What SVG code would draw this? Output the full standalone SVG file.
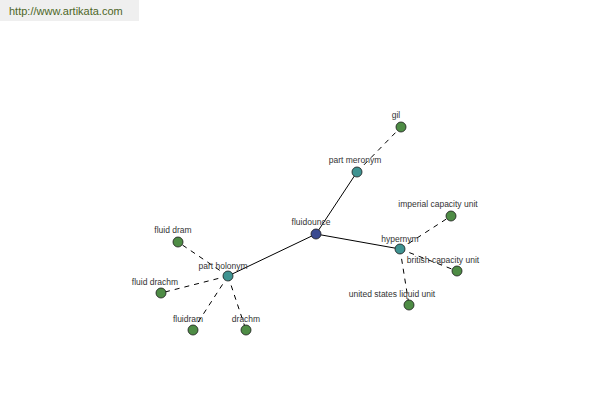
<svg xmlns="http://www.w3.org/2000/svg" width="600" height="400" viewBox="0 0 600 400">
<style>
.lbl{font-family:"Liberation Sans",Arial,sans-serif;font-size:8.5px;fill:#333;text-anchor:middle}
.n{stroke:#1a1a1a;stroke-width:0.8}
.leaf{fill:#4e8c45}
.mid{fill:#3f9391}
.root{fill:#3a4a90}
.solid{stroke:#000;stroke-width:1;fill:none}
.dash{stroke:#000;stroke-width:1;fill:none;stroke-dasharray:5,5}
</style>
<rect x="0" y="0" width="139" height="21" fill="#efefef"/>
<text x="9" y="15" style="font-family:'Liberation Sans',Arial,sans-serif;font-size:11px;fill:#4d6627">http://www.artikata.com</text>
<g id="connectors">
<line class="solid" x1="316" y1="234" x2="357" y2="172"/>
<line class="solid" x1="316" y1="234" x2="400" y2="249"/>
<line class="solid" x1="316" y1="234" x2="228" y2="276"/>
<line class="dash" x1="357" y1="172" x2="401" y2="127"/>
<line class="dash" x1="400" y1="249" x2="451" y2="216"/>
<line class="dash" x1="400" y1="249" x2="457" y2="271"/>
<line class="dash" x1="400" y1="249" x2="409" y2="305"/>
<line class="dash" x1="228" y1="276" x2="178" y2="242"/>
<line class="dash" x1="228" y1="276" x2="161" y2="293"/>
<line class="dash" x1="228" y1="276" x2="193" y2="330"/>
<line class="dash" x1="228" y1="276" x2="246" y2="330"/>
</g>
<g id="fluidounce"><circle class="n root" cx="316" cy="234" r="5"/><text class="lbl" x="311" y="225">fluidounce</text></g>
<g id="part-meronym"><circle class="n mid" cx="357" cy="172" r="5"/><text class="lbl" x="355" y="163">part meronym</text></g>
<g id="gil"><circle class="n leaf" cx="401" cy="127" r="5"/><text class="lbl" x="396" y="118">gil</text></g>
<g id="hypernym"><circle class="n mid" cx="400" cy="249" r="5"/><text class="lbl" x="400" y="242">hypernym</text></g>
<g id="imperial-capacity-unit"><circle class="n leaf" cx="451" cy="216" r="5"/><text class="lbl" x="438" y="207">imperial capacity unit</text></g>
<g id="british-capacity-unit"><circle class="n leaf" cx="457" cy="271" r="5"/><text class="lbl" x="443" y="263">british capacity unit</text></g>
<g id="united-states-liquid-unit"><circle class="n leaf" cx="409" cy="305" r="5"/><text class="lbl" x="392" y="297">united states liquid unit</text></g>
<g id="part-holonym"><circle class="n mid" cx="228" cy="276" r="5"/><text class="lbl" x="223" y="269">part holonym</text></g>
<g id="fluid-dram"><circle class="n leaf" cx="178" cy="242" r="5"/><text class="lbl" x="173" y="233">fluid dram</text></g>
<g id="fluid-drachm"><circle class="n leaf" cx="161" cy="293" r="5"/><text class="lbl" x="155" y="285">fluid drachm</text></g>
<g id="fluidram"><circle class="n leaf" cx="193" cy="330" r="5"/><text class="lbl" x="188" y="322">fluidram</text></g>
<g id="drachm"><circle class="n leaf" cx="246" cy="330" r="5"/><text class="lbl" x="246" y="322">drachm</text></g>
</svg>
